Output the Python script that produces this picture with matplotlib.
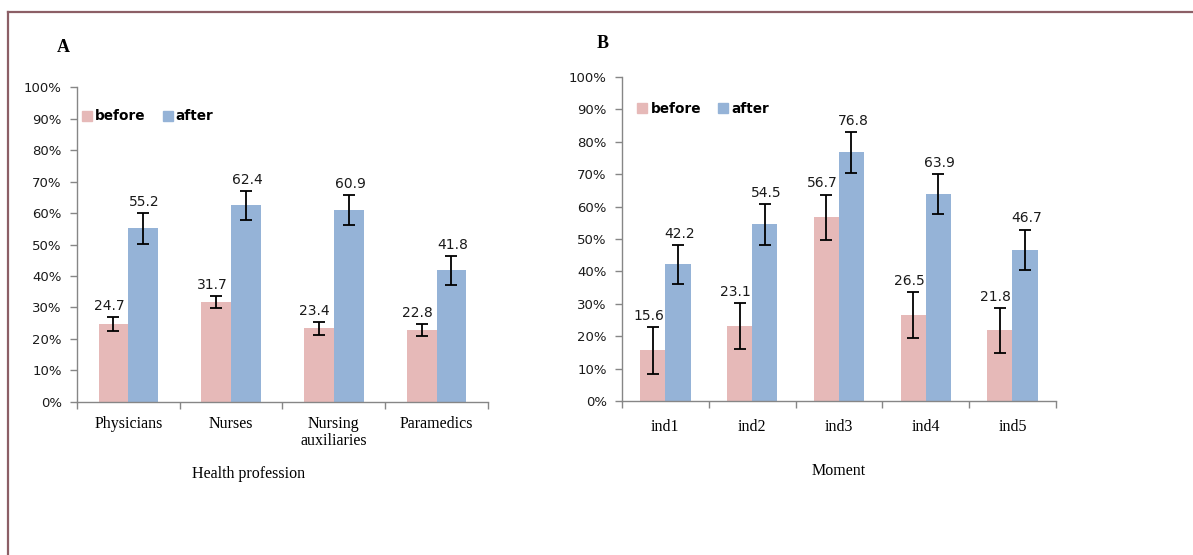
import numpy as np
import matplotlib.pyplot as plt
from matplotlib.lines import Line2D

# Panel A: by health profession
professions = ['Physicians', 'Nurses', 'Nursing\nauxiliaries', 'Paramedics']
prof_before = [24.7, 31.7, 23.4, 22.8]
prof_after = [55.2, 62.4, 60.9, 41.8]
prof_before_err = [2.3, 2.0, 2.1, 2.0]
prof_after_err = [4.9, 4.6, 4.7, 4.6]

# Panel B: by moment (indicator)
moments = ['ind1', 'ind2', 'ind3', 'ind4', 'ind5']
mom_before = [15.6, 23.1, 56.7, 26.5, 21.8]
mom_after = [42.2, 54.5, 76.8, 63.9, 46.7]
mom_before_err = [7.3, 7.0, 7.0, 7.1, 7.0]
mom_after_err = [6.0, 6.3, 6.3, 6.2, 6.2]

yticks = np.arange(0, 101, 10)

PINK = '#E6B9B8'
BLUE = '#95B3D7'
AXIS = '#868686'
SANS = 'DejaVu Sans'
SERIF = 'Liberation Serif'

fig = plt.figure(figsize=(11.93, 5.55), dpi=100)


def draw_panel(ax, cats, before, after, berr, aerr, xlabel, label_xy, pad):
    x = np.arange(len(cats))
    w = 0.29
    ax.bar(x - w / 2, before, w, color=PINK, zorder=2)
    ax.bar(x + w / 2, after, w, color=BLUE, zorder=2)
    ax.errorbar(x - w / 2, before, yerr=berr, fmt='none', ecolor='black',
                elinewidth=1.3, capsize=4, capthick=1.3, zorder=3)
    ax.errorbar(x + w / 2, after, yerr=aerr, fmt='none', ecolor='black',
                elinewidth=1.3, capsize=4, capthick=1.3, zorder=3)
    for xi, v, e in zip(x - w / 2, before, berr):
        ax.annotate(f'{v:.1f}', (xi, v + e), xytext=(-3, 3),
                    textcoords='offset points', ha='center', va='bottom',
                    fontsize=10, family=SANS, color='#1a1a1a')
    for xi, v, e in zip(x + w / 2, after, aerr):
        ax.annotate(f'{v:.1f}', (xi, v + e), xytext=(1, 3),
                    textcoords='offset points', ha='center', va='bottom',
                    fontsize=10, family=SANS, color='#1a1a1a')

    ax.set_xlim(-0.5, len(cats) - 0.5)
    ax.set_ylim(0, 100)
    ax.set_yticks(yticks)
    ax.set_yticklabels([f'{t}%' for t in yticks], family=SANS, fontsize=9.5,
                       color='#1a1a1a')
    ax.set_xticks(x)
    ax.set_xticklabels(cats, family=SERIF, fontsize=11.5, linespacing=1.1)
    ax.set_xticks(np.arange(len(cats) + 1) - 0.5, minor=True)
    ax.tick_params(axis='x', which='major', length=0, pad=pad)
    ax.tick_params(axis='x', which='minor', length=5, color=AXIS, width=1)
    ax.tick_params(axis='y', length=5, color=AXIS, width=1, pad=6)
    for side in ('top', 'right'):
        ax.spines[side].set_visible(False)
    for side in ('left', 'bottom'):
        ax.spines[side].set_color(AXIS)
        ax.spines[side].set_linewidth(1)
    ax.set_xlabel(xlabel, family=SERIF, fontsize=11.5)
    ax.xaxis.set_label_coords(*label_xy)


axA = fig.add_axes([0.0645, 0.2757, 0.3445, 0.5675])
draw_panel(axA, professions, prof_before, prof_after, prof_before_err,
           prof_after_err, 'Health profession', (0.418, -0.202), 10)

axB = fig.add_axes([0.5214, 0.2775, 0.3636, 0.5838])
draw_panel(axB, moments, mom_before, mom_after, mom_before_err,
           mom_after_err, 'Moment', (0.5, -0.19), 13)

# legends
handles = [Line2D([], [], marker='s', ls='none', color=PINK, markersize=7),
           Line2D([], [], marker='s', ls='none', color=BLUE, markersize=7)]
for ax, anchor in ((axA, (-0.015, 0.968)), (axB, (0.009, 0.96))):
    ax.legend(handles, ['before', 'after'], loc='upper left',
              bbox_to_anchor=anchor, ncol=2, frameon=False,
              handlelength=0.6, handletextpad=0.3, columnspacing=1.3,
              prop={'family': SANS, 'weight': 'bold', 'size': 9.8})

# panel letters
fig.text(0.053, 0.915, 'A', family=SERIF, weight='bold', fontsize=13,
         ha='center', va='center')
fig.text(0.505, 0.922, 'B', family=SERIF, weight='bold', fontsize=13,
         ha='center', va='center')

# frame lines on top and left
fig.add_artist(Line2D([0.0067, 1.0], [0.978, 0.978], color='#8C5F66', lw=1.6,
                      transform=fig.transFigure))
fig.add_artist(Line2D([0.0067, 0.0067], [0.0, 0.978], color='#8C5F66', lw=1.6,
                      transform=fig.transFigure))

fig.savefig('out.png', dpi=100)
